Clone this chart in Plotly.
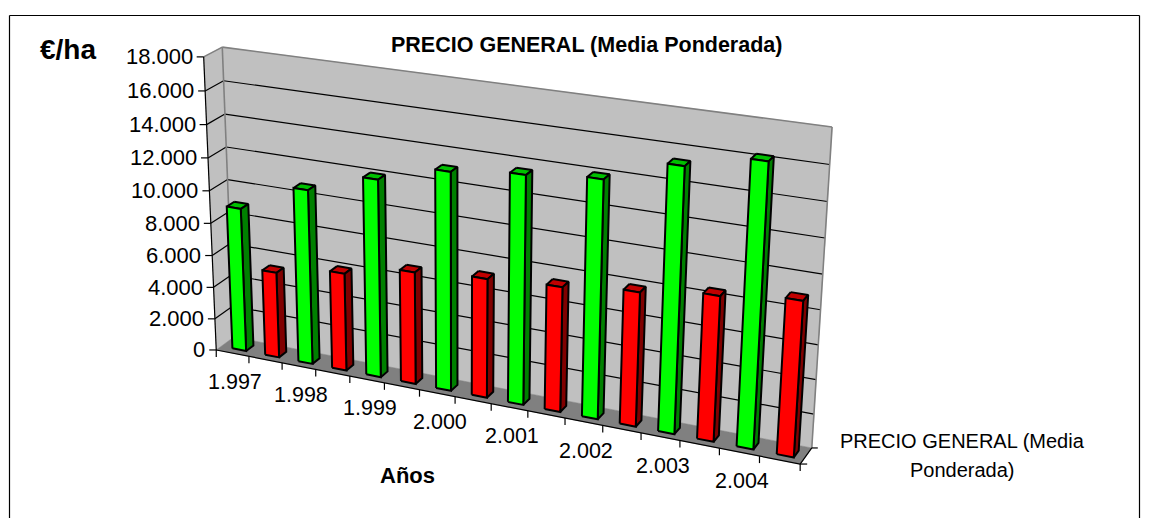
import numpy as np
import plotly.graph_objects as go

# ---- data ----
YEARS = ["1.997", "1.998", "1.999", "2.000", "2.001", "2.002", "2.003", "2.004"]
GREEN_VALUES = [8940, 10740, 12020, 13120, 13580, 13980, 15360, 16250]
RED_VALUES = [5340, 6020, 6840, 7190, 7460, 7920, 8470, 8970]
Y_TICKS = [0, 2000, 4000, 6000, 8000, 10000, 12000, 14000, 16000, 18000]
Y_MAX = 18000
TITLE = "PRECIO GENERAL (Media Ponderada)"
Y_TITLE = "€/ha"
X_TITLE = "Años"
SERIES_LABEL = ["PRECIO GENERAL (Media", "Ponderada)"]

# ---- perspective of the 3-D box: (u along x, v depth, w height 0-1) -> page
CAL_3D = [(0,1,1),(1,1,1),(0,1,0),(1,1,0),(0,0,1),(0,0,0),(1,0,0)]
CAL_2D = [(224,47),(832,127),(232,338),(812,447),(202,57),(218,349),(800,465)]

A = []
for (a, b, c), (x, y) in zip(CAL_3D, CAL_2D):
    A.append([a, b, c, 1, 0, 0, 0, 0, -x*a, -x*b, -x*c, -x])
    A.append([0, 0, 0, 0, a, b, c, 1, -y*a, -y*b, -y*c, -y])
P = np.linalg.svd(np.array(A, float))[2][-1].reshape(3, 4)


def proj(u, v, value):
    h = P @ np.array([u, v, value / Y_MAX, 1.0])
    return h[0] / h[2], h[1] / h[2]


def poly(pts):
    xy = [proj(*p) for p in pts]
    xy.append(xy[0])
    return [p[0] for p in xy], [p[1] for p in xy]


fig = go.Figure()


def face(pts, fill, line="black", width=2.0):
    x, y = poly(pts)
    fig.add_trace(go.Scatter(x=x, y=y, mode="lines", fill="toself", fillcolor=fill,
                             line=dict(color=line, width=width), showlegend=False, hoverinfo="skip"))


def seg(p, q, color="black", width=1.2, off=None):
    a, b = proj(*p), proj(*q)
    if off is not None:
        b = (a[0] + off[0], a[1] + off[1])
    fig.add_trace(go.Scatter(x=[a[0], b[0]], y=[a[1], b[1]], mode="lines",
                             line=dict(color=color, width=width), showlegend=False, hoverinfo="skip"))


# walls and floor
face([(0,1,0),(1,1,0),(1,1,Y_MAX),(0,1,Y_MAX)], "#C0C0C0", "#C0C0C0", 0.5)
face([(0,0,0),(0,1,0),(0,1,Y_MAX),(0,0,Y_MAX)], "#C0C0C0", "#C0C0C0", 0.5)
face([(0,0,0),(1,0,0),(1,1,0),(0,1,0)], "#808080", "#808080", 0.5)

# grid lines
for t in Y_TICKS[1:-1]:
    seg((0,0,t), (0,1,t))
    seg((0,1,t), (1,1,t))
# wall edges
seg((0,0,Y_MAX), (0,1,Y_MAX), "#808080", 1.6)
seg((0,1,Y_MAX), (1,1,Y_MAX), "#808080", 1.6)
seg((1,1,Y_MAX), (1,1,0), "#808080", 1.6)
seg((0,1,Y_MAX), (0,1,0), "#808080", 1.6)

# axes
seg((0,0,0), (0,0,Y_MAX))
seg((0,0,0), (1,0,0))
seg((1,0,0), (1,1,0))
seg((1,1,0), (1,1,0), off=(6, 0))
for t in Y_TICKS:
    seg((0,0,t), (0,0,t), off=(-7, 0))
n_cat = 2 * len(YEARS)
for i in range(n_cat + 1):
    seg((i/n_cat,0,0), (i/n_cat,0,0), off=(0, 7))
seg((1,0,0), (1,0,0), off=(7, 0))

# bars
BAR_HALF = 0.21
BAR_CENTRE = 0.55
V0, V1 = 0.29, 0.71
values = [v for pair in zip(GREEN_VALUES, RED_VALUES) for v in pair]
COLORS = [("#00FF00", "#008000", "#00C000"), ("#FF0000", "#800000", "#C00000")]
for i, val in enumerate(values):
    front, side, top = COLORS[i % 2]
    u0 = (i + BAR_CENTRE - BAR_HALF) / n_cat
    u1 = (i + BAR_CENTRE + BAR_HALF) / n_cat
    face([(u0,V1,val),(u1,V1,val),(u1,V0,val),(u0,V0,val)], top)
    face([(u1,V0,0),(u1,V1,0),(u1,V1,val),(u1,V0,val)], side)
    face([(u0,V0,0),(u1,V0,0),(u1,V0,val),(u0,V0,val)], front)

# text
FONT = "Liberation Sans"
ann = []
for t in Y_TICKS:
    x, y = proj(0, 0, t)
    label = f"{t:,}".replace(",", ".")
    ann.append(dict(x=x-9, y=y, text=label, xanchor="right", yanchor="middle", showarrow=False,
                    font=dict(family=FONT, size=22, color="black")))
for i, lab in enumerate(YEARS):
    x, y = proj((2*i + 0.5) / n_cat, 0, 0)
    ann.append(dict(x=x+2.5, y=y+29, text=lab, xanchor="center", yanchor="middle", showarrow=False,
                    font=dict(family=FONT, size=21.5, color="black")))
ann.append(dict(x=586.5, y=44.5, text=f"<b>{TITLE}</b>", xanchor="center", yanchor="middle", showarrow=False,
                font=dict(family=FONT, size=21.5, color="black")))
ann.append(dict(x=68, y=49.5, text=f"<b>{Y_TITLE}</b>", xanchor="center", yanchor="middle", showarrow=False,
                font=dict(family=FONT, size=28, color="black")))
ann.append(dict(x=407, y=475, text=f"<b>{X_TITLE}</b>", xanchor="center", yanchor="middle", showarrow=False,
                font=dict(family=FONT, size=22, color="black")))
for yy, line in zip([441, 470], SERIES_LABEL):
    ann.append(dict(x=962, y=yy, text=line, xanchor="center", yanchor="middle", showarrow=False,
                    font=dict(family=FONT, size=20, color="black")))

fig.update_layout(
    width=1149, height=518, margin=dict(l=0, r=0, t=0, b=0),
    paper_bgcolor="white", plot_bgcolor="white",
    xaxis=dict(range=[0, 1149], visible=False, fixedrange=True),
    yaxis=dict(range=[518, 0], visible=False, fixedrange=True),
    annotations=ann,
    shapes=[
        dict(type="line", x0=9.5, x1=9.5, y0=15.5, y1=518, line=dict(color="black", width=1.2)),
        dict(type="line", x0=9.5, x1=1139.5, y0=15.5, y1=15.5, line=dict(color="black", width=1.2)),
        dict(type="line", x0=1139.5, x1=1139.5, y0=15.5, y1=518, line=dict(color="black", width=1.2)),
    ],
)
fig.write_html("out.html", config={"displayModeBar": False},
               post_script="document.body.style.margin='0';document.documentElement.style.overflow='hidden';")
